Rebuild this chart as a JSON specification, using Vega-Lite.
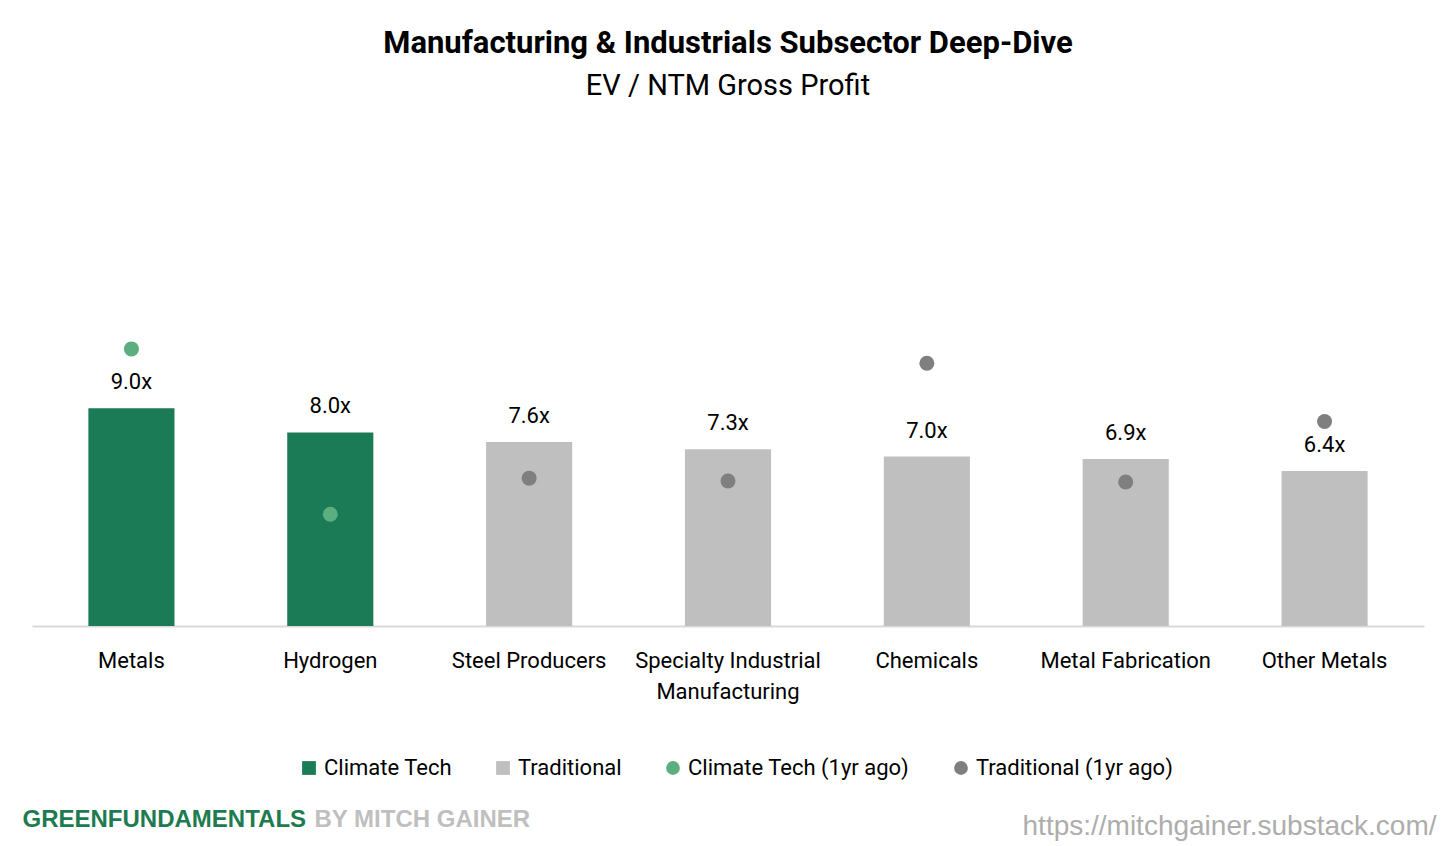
{
  "$schema": "https://vega.github.io/schema/vega-lite/v6.json",
  "width": 1392,
  "height": 484,
  "autosize": {"type": "none"},
  "padding": {"left": 32, "right": 32, "top": 142, "bottom": 220},
  "background": "white",
  "title": {
    "text": "Manufacturing & Industrials Subsector Deep-Dive",
    "subtitle": "EV / NTM Gross Profit",
    "anchor": "middle",
    "frame": "group",
    "font": "Roboto",
    "fontSize": 31,
    "fontWeight": "bold",
    "color": "#000000",
    "subtitleFont": "Roboto",
    "subtitleFontSize": 29,
    "subtitleColor": "#000000",
    "subtitlePadding": 12,
    "offset": 40
  },
  "data": {
    "values": [
      {"sector": "Metals", "value": 9.0, "label": "9.0x", "group": "Climate Tech", "prior": 11.45, "priorGroup": "Climate Tech (1yr ago)"},
      {"sector": "Hydrogen", "value": 8.0, "label": "8.0x", "group": "Climate Tech", "prior": 4.62, "priorGroup": "Climate Tech (1yr ago)"},
      {"sector": "Steel Producers", "value": 7.6, "label": "7.6x", "group": "Traditional", "prior": 6.11, "priorGroup": "Traditional (1yr ago)"},
      {"sector": "Specialty Industrial Manufacturing", "value": 7.3, "label": "7.3x", "group": "Traditional", "prior": 5.99, "priorGroup": "Traditional (1yr ago)"},
      {"sector": "Chemicals", "value": 7.0, "label": "7.0x", "group": "Traditional", "prior": 10.86, "priorGroup": "Traditional (1yr ago)"},
      {"sector": "Metal Fabrication", "value": 6.9, "label": "6.9x", "group": "Traditional", "prior": 5.95, "priorGroup": "Traditional (1yr ago)"},
      {"sector": "Other Metals", "value": 6.4, "label": "6.4x", "group": "Traditional", "prior": 8.45, "priorGroup": "Traditional (1yr ago)"}
    ]
  },
  "resolve": {"scale": {"y": "independent"}},
  "layer": [
    {
      "layer": [
        {
          "mark": {"type": "bar"},
          "encoding": {
            "x": {
              "field": "sector",
              "type": "nominal",
              "sort": null,
              "scale": {"paddingInner": 0.567, "paddingOuter": 0.2835},
              "axis": {
                "title": "GREENFUNDAMENTALS",
                "titleFont": "Liberation Sans",
                "titleFontSize": 24,
                "titleFontWeight": "bold",
                "titleColor": "#1E7B50",
                "titleAlign": "left",
                "titleBaseline": "alphabetic",
                "titleAnchor": "start",
                "titleX": -10,
                "titleY": 200,
                "titleLimit": 0,
                "labelFont": "Roboto",
                "labelFontSize": 22,
                "labelColor": "#000000",
                "labelAngle": 0,
                "labelPadding": 24,
                "labelLineHeight": 31,
                "labelLimit": 0,
                "labelExpr": "datum.label == 'Specialty Industrial Manufacturing' ? ['Specialty Industrial', 'Manufacturing'] : datum.label",
                "ticks": false,
                "domainColor": "#D9D9D9",
                "domainWidth": 2,
                "grid": false
              }
            },
            "y": {
              "field": "value",
              "type": "quantitative",
              "scale": {"domain": [0, 20], "nice": false, "zero": true},
              "axis": {
                "orient": "left",
                "title": "BY MITCH GAINER",
                "titleFont": "Liberation Sans",
                "titleFontSize": 24,
                "titleFontWeight": "bold",
                "titleColor": "#BFBFBF",
                "titleAngle": 0,
                "titleAlign": "left",
                "titleBaseline": "alphabetic",
                "titleX": 282,
                "titleY": 684,
                "titleLimit": 0,
                "labels": false,
                "ticks": false,
                "domain": false,
                "grid": false
              }
            },
            "color": {
              "field": "group",
              "type": "nominal",
              "scale": {
                "domain": ["Climate Tech", "Traditional", "Climate Tech (1yr ago)", "Traditional (1yr ago)"],
                "range": ["#1A7B56", "#BFBFBF", "#5BAE80", "#7F7F7F"]
              },
              "legend": {
                "title": null,
                "orient": "none",
                "legendX": 266,
                "legendY": 615,
                "direction": "horizontal",
                "columns": 4,
                "columnPadding": 40,
                "padding": 0,
                "labelFont": "Roboto",
                "labelFontSize": 22,
                "labelColor": "#000000",
                "labelOffset": 4,
                "labelLimit": 0,
                "symbolSize": 190,
                "symbolType": "square",
                "symbolStrokeWidth": 0,
                "encode": {
                  "symbols": {
                    "update": {
                      "shape": {"signal": "indexof(datum.value, '1yr') >= 0 ? 'circle' : 'square'"},
                      "strokeWidth": {"value": 0}
                    }
                  }
                }
              }
            }
          }
        },
        {
          "mark": {"type": "text", "baseline": "alphabetic", "dy": -19, "font": "Roboto", "fontSize": 22, "color": "#000000"},
          "encoding": {
            "x": {"field": "sector", "type": "nominal", "sort": null},
            "y": {"field": "value", "type": "quantitative"},
            "text": {"field": "label"}
          }
        }
      ]
    },
    {
      "mark": {"type": "point", "filled": true, "opacity": 1, "shape": "circle", "size": 225},
      "encoding": {
        "x": {"field": "sector", "type": "nominal", "sort": null},
        "y": {
          "field": "prior",
          "type": "quantitative",
          "scale": {"domain": [0, 20], "nice": false, "zero": true},
          "axis": {
            "orient": "right",
            "title": "https://mitchgainer.substack.com/",
            "titleFont": "Liberation Sans",
            "titleFontSize": 28,
            "titleFontWeight": "normal",
            "titleColor": "#ADADAD",
            "titleAngle": 0,
            "titleAlign": "right",
            "titleBaseline": "alphabetic",
            "titleX": 12,
            "titleY": 692,
            "titleLimit": 0,
            "labels": false,
            "ticks": false,
            "domain": false,
            "grid": false
          }
        },
        "color": {"field": "priorGroup", "type": "nominal"}
      }
    }
  ],
  "config": {
    "view": {"stroke": null}
  }
}
